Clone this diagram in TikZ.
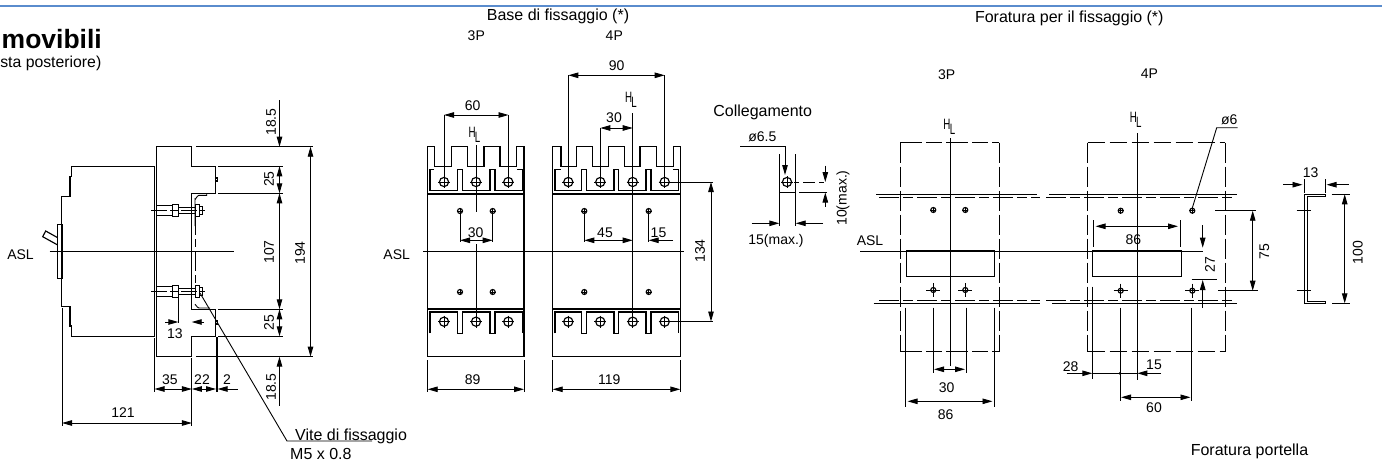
\documentclass[tikz,border=0pt]{standalone}
\usepackage{fontspec}
\setmainfont{Liberation Sans}
\usetikzlibrary{arrows.meta}
\definecolor{topblue}{RGB}{90,140,205}
\newcounter{lb}
\newcommand\lbl[4][]{\stepcounter{lb}\node[lab,#1] (lb\arabic{lb}) at (#2,#3) {#4};}
\newcommand\bighole[2]{\draw[ol] (#1,#2) circle (4.6);\draw[thin1] (#1-6,#2)--(#1+6,#2) (#1,#2-6)--(#1,#2+6);}
\newcommand\smhole[2]{\draw[ol] (#1,#2) circle (2.5);\draw[thin1] (#1-3,#2)--(#1+3,#2) (#1,#2-3)--(#1,#2+3);}
\newcommand\smcross[2]{\draw[ol] (#1,#2) circle (2.5);\draw[thin1] (#1-7,#2)--(#1+7,#2) (#1,#2-7)--(#1,#2+7);}
\newcommand\clmark{\scalebox{.65}[1]{H\kern-1pt\raisebox{-5pt}{L}}}
\tikzset{
 lab/.style={inner sep=0pt,font=\fontsize{14}{16}\selectfont},
 lab16/.style={lab,font=\fontsize{16}{18}\selectfont},
 hl/.style={lab,font=\fontsize{15}{17}\selectfont},
 ol/.style={line width=1.15pt,black},
 thin1/.style={line width=.9pt,black},
 tip/.tip={Triangle[length=10pt,width=5.5pt]},
 dd/.style={thin1,{tip}-{tip}},
 da/.style={thin1,-{tip}},
 dashA/.style={ol,dash pattern=on 22pt off 4pt on 16pt off 4pt},
 dashB/.style={ol,dash pattern=on 17pt off 5pt},
 dashC/.style={thin1,dash pattern=on 20pt off 4pt on 8pt off 4pt},
}
\begin{document}
\begin{tikzpicture}[x=1pt,y=-1pt]
\useasboundingbox (0,0) rectangle (1382,463);
\draw[line width=1.8pt,topblue] (0,5.6)--(1382,5.6);
\node[lab,anchor=base west,font=\fontsize{26.5}{28}\bfseries\selectfont] (title) at (1.5,48) {movibili};
\node[lab,anchor=base east,font=\fontsize{15.8}{17}\selectfont] (sub) at (101.5,67) {sta posteriore)};
%% ---------- side view
\draw[ol,line width=1.3pt] (154.8,166.7)--(71.7,166.7)--(71.7,176.7)--(70,176.7)--(70,196.7)--(61.7,196.7)--(61.7,306.3)--(70,306.3)--(70,326)--(71.7,326)--(71.7,336.3)--(154.8,336.3);
\draw[ol,line width=1.3pt] (154.8,166.7)--(154.8,336.3);
\draw[ol] (57.7,224.3) rectangle (62.3,278.3);
\draw[ol] (57.7,237.7)--(45.7,231)--(42.7,236.7)--(57.7,245);
\draw[ol,line width=1.3pt] (156.5,146.7)--(191.7,146.7)--(191.7,166.3)--(215.5,166.3)--(215.5,193.3)--(191.7,193.3)--(191.7,309.3)--(215.5,309.3)--(215.5,336.3)--(191.7,336.3)--(191.7,356.6)--(156.5,356.6)--cycle;
\draw[ol] (215.5,178)--(217.5,178)--(217.5,181)--(215.5,181);
\draw[ol] (215.5,321)--(217.5,321)--(217.5,324)--(215.5,324);
\draw[dashC] (195,215)--(195,285);
% brackets
\draw[thin1] (195,226)--(195,199) to[out=-90,in=180] (199,195.3)--(206.7,195.3)--(206.7,193.3);
\draw[thin1] (195,305) to[out=90,in=180] (199,308)--(210,308);
% bolts
\foreach \yy in {210.7,291.5}{
 \draw[ol] (156.7,\yy-5)--(172.3,\yy-5) (156.7,\yy+5)--(172.3,\yy+5);
 \draw[ol] (172.3,\yy-6) rectangle (178.3,\yy+6);
 \draw[thin1] (178.3,\yy-3)--(195.5,\yy-3) (178.3,\yy+3)--(195.5,\yy+3);
 \draw[ol] (195.5,\yy-6) rectangle (199.5,\yy+6);
 \draw[ol] (199.5,\yy-4) rectangle (202.5,\yy+4);
 \draw[thin1,dash pattern=on 16pt off 3pt on 8pt off 3pt] (151,\yy)--(205,\yy);
}
\lbl{20.5}{255}{ASL}
\draw[thin1] (49.5,251.7)--(234,251.7);
% dims
\draw[da] (279.5,100)--(279.5,146.7);
\lbl[rotate=90]{271}{122}{18.5}
\draw[thin1] (196,146.7)--(313,146.7) (196,356.6)--(313,356.6);
\draw[dd] (310.5,146.7)--(310.5,356.6);
\lbl[rotate=90]{300}{253}{194}
\draw[thin1] (218,166.3)--(283,166.3) (218,193.3)--(283,193.3) (218,309.3)--(283,309.3) (218,336.3)--(283,336.3);
\draw[dd] (279.5,166.3)--(279.5,193.3);
\draw[dd] (279.5,193.3)--(279.5,309.3);
\draw[dd] (279.5,309.3)--(279.5,336.3);
\lbl[rotate=90]{269}{179}{25}
\lbl[rotate=90]{269}{252}{107}
\lbl[rotate=90]{269}{322.5}{25}
\draw[da] (279.5,405.7)--(279.5,356.6);
\lbl[rotate=90]{271}{387}{18.5}
% 13
\draw[thin1] (178.3,297)--(178.3,323);
\draw[da] (165,322)--(178.3,322);
\draw[da] (204,322)--(191.7,322);
\lbl{175}{333.5}{13}
% bottom dims
\draw[thin1] (154.5,338)--(154.5,392) (191.9,358)--(191.9,426) (216,337)--(216,392) (217.6,337)--(217.6,392) (62,308)--(62,426);
\draw[dd] (154.5,389)--(191.9,389);
\draw[dd] (191.9,389)--(216,389);
\draw[da] (237.5,389)--(217.6,389);
\lbl{170}{380}{35}
\lbl{202}{380}{22}
\lbl{227}{380}{2}
\draw[dd] (62,423)--(191.9,423);
\lbl{123}{413}{121}
% leader
\draw[thin1] (200,293)--(287,441)--(372,441);
\node[lab16,anchor=base west] (vite) at (295,440) {Vite di fissaggio};
\node[lab16,anchor=base west] (m5) at (290,459.7) {M5 x 0.8};
%% ---------- base 3P
\node[lab16] (basetitle) at (558,16) {Base di fissaggio (*)};
\lbl{476.3}{36}{3P}
\lbl{614.3}{36}{4P}
\draw[ol,line width=1.3pt] (427.7,356.7)--(427.7,146.7)--(434.3,146.7)--(434.3,166.7)--(451.7,166.7)--(451.7,146.7)--(467.3,146.7)--(467.3,166.7)--(484,166.7)--(484,146.7)--(500,146.7)--(500,166.7)--(516.7,166.7)--(516.7,146.7)--(524,146.7)--(524,356.7)--cycle;
\draw[ol] (430,169.3)--(434.3,169.3) (430,169.3)--(430,190.7)--(457.7,190.7)--(457.7,169.3)--(462.7,169.3)--(462.7,190.7)--(490,190.7)--(490,169.3)--(495,169.3)--(495,190.7)--(522.7,190.7)--(522.7,169.3)--(516.7,169.3);
\draw[ol,line width=1.3pt] (427.7,194)--(524,194);
\draw[ol,line width=1.3pt] (427.7,309)--(524,309);
\draw[ol] (430,333.3)--(430,312)--(457.7,312)--(457.7,333.3)--(462.7,333.3)--(462.7,312)--(490,312)--(490,333.3)--(495,333.3)--(495,312)--(522.7,312)--(522.7,333.3);
\foreach \xx in {444,476,508.3}{\bighole{\xx}{182}\bighole{\xx}{321.7}}
\foreach \xx in {460,492.7}{\smhole{\xx}{211}\smhole{\xx}{292}}
\draw[thin1] (444,115)--(444,177) (508.5,115)--(508.5,177);
\draw[dd] (444,115)--(508.5,115);
\lbl{472.7}{105.5}{60}
\node[hl] (cl1) at (474.5,134.5) {\clmark};
\draw[thin1] (476,145)--(476,211.6) (476,244)--(476,325);
\draw[thin1] (460,214)--(460,241.5) (492.7,214)--(492.7,241.5);
\draw[dd] (460,240.3)--(492.7,240.3);
\lbl{475.7}{233}{30}
\lbl{396.7}{255}{ASL}
\draw[thin1] (423,251.7)--(684,251.7);
\draw[thin1] (427.7,360)--(427.7,392) (524,360)--(524,392);
\draw[dd] (427.7,389.3)--(524,389.3);
\lbl{472.7}{380}{89}
%% ---------- base 4P
\draw[ol,line width=1.3pt] (552.7,356.7)--(552.7,146.7)--(561,146.7)--(561,166.7)--(576.7,166.7)--(576.7,146.7)--(592.7,146.7)--(592.7,166.7)--(608.3,166.7)--(608.3,146.7)--(624.3,146.7)--(624.3,166.7)--(640,166.7)--(640,146.7)--(656.7,146.7)--(656.7,166.7)--(673.3,166.7)--(673.3,146.7)--(680.3,146.7)--(680.3,356.7)--cycle;
\draw[ol] (555,169.3)--(561,169.3) (555,169.3)--(555,190.7)--(581.7,190.7)--(581.7,169.3)--(586.7,169.3)--(586.7,190.7)--(614,190.7)--(614,169.3)--(618.7,169.3)--(618.7,190.7)--(646,190.7)--(646,169.3)--(651,169.3)--(651,190.7)--(678.7,190.7)--(678.7,169.3)--(673.3,169.3);
\draw[ol,line width=1.3pt] (552.7,194)--(680.3,194);
\draw[ol,line width=1.3pt] (552.7,309)--(680.3,309);
\draw[ol] (555,333.3)--(555,312)--(581.7,312)--(581.7,333.3)--(586.7,333.3)--(586.7,312)--(614,312)--(614,333.3)--(618.7,333.3)--(618.7,312)--(646,312)--(646,333.3)--(651,333.3)--(651,312)--(678.7,312)--(678.7,333.3);
\foreach \xx in {568.3,600.3,632.7,664.7}{\bighole{\xx}{182}\bighole{\xx}{321.7}}
\foreach \xx in {584.3,648.7}{\smhole{\xx}{211}\smhole{\xx}{292}}
\draw[thin1] (568.3,75.3)--(568.3,177) (664.7,75.3)--(664.7,177);
\draw[dd] (568.3,75.3)--(664.7,75.3);
\lbl{616.7}{66}{90}
\draw[thin1] (600.3,128)--(600.3,177);
\draw[dd] (600.3,128)--(632.7,128);
\lbl{614}{117.7}{30}
\node[hl] (cl2) at (631,99.5) {\clmark};
\draw[thin1] (632.7,113)--(632.7,325);
\draw[thin1] (584.3,214)--(584.3,241.5) (648.7,214)--(648.7,241.5);
\draw[dd] (584.3,240.3)--(632.7,240.3);
\draw[da] (673,240.3)--(648.7,240.3);
\lbl{605}{233}{45}
\lbl{658.5}{233}{15}
\draw[thin1] (670,182)--(713.3,182) (670,321.5)--(713.3,321.5);
\draw[dd] (711,182)--(711,321.5);
\lbl[rotate=90]{700}{251}{134}
\draw[thin1] (552.7,360)--(552.7,392) (680.3,360)--(680.3,392);
\draw[dd] (552.7,389.3)--(680.3,389.3);
\lbl{609.3}{380}{119}
%% ---------- Collegamento
\node[lab16] (colleg) at (762.7,112.7) {Collegamento};
\lbl{762.3}{137}{ø6.5}
\draw[thin1] (740,146)--(785,146);
\draw[da] (785,146)--(785,175);
\draw[ol] (779.3,154.3)--(779.3,192.7)--(795.7,192.7)--(795.7,154.3);
\bighole{787}{182}
\draw[thin1,dash pattern=on 5pt off 4pt on 12pt off 4pt] (794,182)--(827,182);
\draw[thin1] (799.3,192.5)--(827,192.5);
\draw[da] (825.3,165.7)--(825.3,182);
\draw[da] (825.3,206.7)--(825.3,192.5);
\lbl[rotate=90]{843}{198}{10(max.)}
\draw[thin1] (779.3,192.7)--(779.3,226) (795.7,192.7)--(795.7,226);
\draw[da] (751.7,223.3)--(779.3,223.3);
\draw[da] (823,223.3)--(795.7,223.3);
\lbl{776}{241.3}{15(max.)}
%% ---------- door drilling
\node[lab16] (foratit) at (1069.3,18.3) {Foratura per il fissaggio (*)};
\lbl{946.7}{75}{3P}
\lbl{1149.3}{74}{4P}
\node[lab16] (forapor) at (1249.5,451.7) {Foratura portella};
% 3P
\draw[dashA] (900.3,142.7)--(999.3,142.7);
\draw[dashA] (900.3,351.7)--(999.3,351.7);
\draw[ol,dash pattern=on 20pt off 4pt] (900.3,142.7)--(900.3,351.7);
\draw[ol,dash pattern=on 20pt off 4pt] (999.3,142.7)--(999.3,351.7);
\node[hl] (cl3) at (949.3,127) {\clmark};
\draw[thin1,line width=1.1pt] (950.3,138)--(950.3,365.7);
\draw[ol] (876,194.7)--(1037,194.7);
\draw[thin1,dash pattern=on 20pt off 4pt on 10pt off 4pt] (879,197.4)--(1040,197.4);
\draw[thin1,dash pattern=on 20pt off 4pt on 10pt off 4pt] (879.3,300)--(1040,300);
\draw[ol] (873.7,303.1)--(1040,303.1);
\lbl{870}{241}{ASL}
\draw[thin1] (860,251.3)--(1203,251.3);
\draw[thin1] (906,250.7) rectangle (994.7,276.7);
\foreach \xx in {933.3,965.3}{\smhole{\xx}{210}\smcross{\xx}{290}}
\draw[thin1] (905.3,307.7)--(905.3,406.7) (994.7,307.7)--(994.7,406.7) (933,307.7)--(933,372.7) (966,307.7)--(966,372.7);
\draw[dd] (934,369.3)--(965,369.3);
\lbl{946.7}{387.7}{30}
\draw[dd] (907.5,401.3)--(992.5,401.3);
\lbl{945.7}{415}{86}
% 4P
\draw[dashB] (1087.7,142.7)--(1225.3,142.7);
\draw[dashB] (1087.7,351.7)--(1225.3,351.7);
\draw[ol,dash pattern=on 20pt off 4pt] (1087.7,142.7)--(1087.7,351.7);
\draw[ol,dash pattern=on 20pt off 4pt] (1225.3,142.7)--(1225.3,351.7);
\node[hl] (cl4) at (1135.7,119.5) {\clmark};
\draw[thin1,line width=1.1pt] (1137.3,133)--(1137.3,380);
\draw[ol] (1049,194.7)--(1236.7,194.7);
\draw[thin1,dash pattern=on 20pt off 4pt on 10pt off 4pt] (1046,197.4)--(1233,197.4);
\draw[thin1,dash pattern=on 20pt off 4pt on 10pt off 4pt] (1046,300)--(1233.3,300);
\draw[ol] (1052,303.1)--(1237,303.1);
\draw[thin1] (1092.3,250.7) rectangle (1181,276.7);
\foreach \xx in {1120.7,1192.3}{\smhole{\xx}{210.7}\smcross{\xx}{290.7}}
\draw[thin1] (1093.3,220)--(1093.3,247.3) (1180.3,220)--(1180.3,247.3);
\draw[dd] (1095.5,226.3)--(1178,226.3);
\lbl{1133.3}{240}{86}
\draw[thin1] (1192.3,208)--(1216.7,127.7)--(1237.7,127.7);
\lbl{1229.3}{119.3}{ø6}
\draw[da] (1202.7,225.3)--(1202.7,247.7);
\draw[da] (1202.7,307.7)--(1202.7,280);
\draw[thin1] (1191.7,279.5)--(1216.7,279.5);
\lbl[rotate=90]{1210}{264.3}{27}
\draw[thin1] (1215,210.7)--(1256,210.7) (1218,290.7)--(1257.7,290.7);
\draw[dd] (1252.7,210.7)--(1252.7,290.7);
\lbl[rotate=90]{1264.3}{251.7}{75}
\draw[thin1] (1092.3,286.7)--(1092.3,379.3) (1120,307.7)--(1120,400.7) (1191.3,307.7)--(1191.3,400.7);
\draw[da] (1066.7,373.3)--(1092.3,373.3);
\draw[da] (1161,373.3)--(1137.3,373.3);
\draw[thin1] (1092.3,373.3)--(1137.3,373.3);
\fill (1120,373.3) circle (1.5);
\lbl{1070.7}{367}{28}
\lbl{1154}{365}{15}
\draw[dd] (1121,397.3)--(1190.5,397.3);
\lbl{1154}{407.7}{60}
%% ---------- channel
\draw[thin1] (1325,196.7)--(1307,196.7)--(1307,301)--(1325,301)--(1325,303.3)--(1304.3,303.3)--(1304.3,194.3)--(1325,194.3)--cycle;
\draw[thin1] (1296.7,210.7)--(1311,210.7) (1296.7,290.7)--(1311,290.7);
\draw[thin1] (1304,179)--(1304,193) (1325,179)--(1325,193);
\draw[da] (1283.3,184.7)--(1302.5,184.7);
\draw[da] (1348.7,184.7)--(1326.5,184.7);
\lbl{1310.7}{173}{13}
\draw[thin1] (1331.7,194.3)--(1350,194.3) (1332.3,303.3)--(1350,303.3);
\draw[dd] (1344.7,194.3)--(1344.7,303.3);
\lbl[rotate=90]{1357.7}{252.7}{100}
\end{tikzpicture}
\end{document}
